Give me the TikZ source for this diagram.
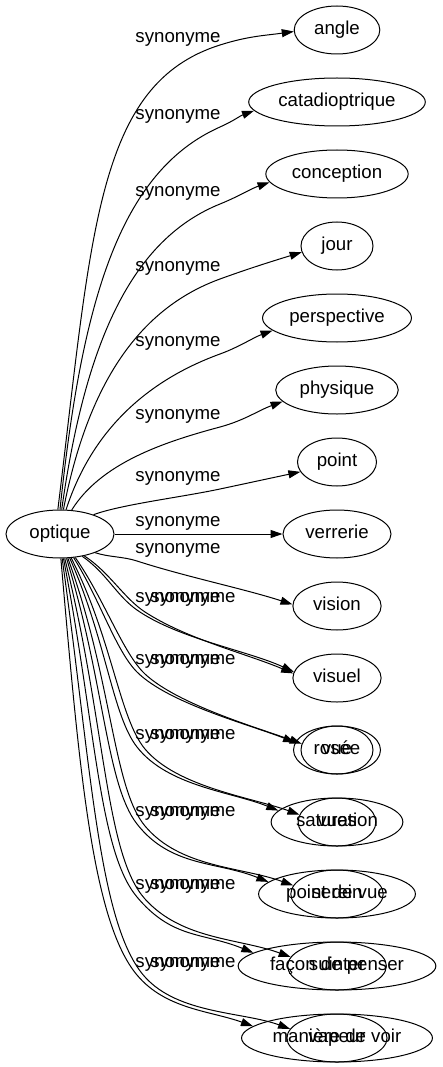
\documentclass[tikz,border=0pt]{standalone}
\usepackage{fontspec}
\setmainfont{Liberation Sans}
\usetikzlibrary{shapes.geometric,arrows.meta}
\newcommand{\gvf}{\fontsize{18.67pt}{20pt}\selectfont}
\begin{document}
\begin{tikzpicture}[x=1pt,y=1pt,
  gnode/.style={draw, ellipse, line width=1pt, minimum height=48pt, inner sep=0pt, font=\gvf, text height=13.5pt, text depth=4pt},
  lab/.style={inner sep=0pt, font=\gvf, text height=13.5pt, text depth=4pt},
  edge/.style={line width=1pt, -{Triangle[length=12pt,width=8pt]}}]
\useasboundingbox (0,0) rectangle (443,-1067);
% nodes
\node[gnode,minimum width=108pt] (optique) at (60,-534) {optique};
\node[gnode,minimum width=85.6pt] (angle) at (337,-30) {angle};
\node[gnode,minimum width=176.6pt] (cata) at (337,-102) {catadioptrique};
\node[gnode,minimum width=142.3pt] (conc) at (337,-174) {conception};
\node[gnode,minimum width=72pt] (jour) at (337,-246) {jour};
\node[gnode,minimum width=148.9pt] (persp) at (337,-318) {perspective};
\node[gnode,minimum width=122.5pt] (phys) at (337,-390) {physique};
\node[gnode,minimum width=79pt] (point) at (337,-462) {point};
\node[gnode,minimum width=108pt] (verr) at (337,-534) {verrerie};
\node[gnode,minimum width=88.2pt] (vision) at (337,-606) {vision};
\node[gnode,minimum width=88.2pt] (visuel) at (337,-678) {visuel};
\node[gnode,minimum width=87pt] (rosee) at (337,-750) {rosée};
\node[gnode,minimum width=72pt] (vue) at (337,-750) {vue};
\node[gnode,minimum width=131.7pt] (satur) at (337,-822) {saturation};
\node[gnode,minimum width=77.7pt] (vues) at (337,-822) {vues};
\node[gnode,minimum width=156.8pt] (pdv) at (337,-894) {point de vue};
\node[gnode,minimum width=92.4pt] (serein) at (337,-894) {serein};
\node[gnode,minimum width=197.7pt] (facon) at (337,-966) {façon de penser};
\node[gnode,minimum width=98.7pt] (suinter) at (337,-966) {suinter};
\node[gnode,minimum width=190.9pt] (maniere) at (337,-1038) {manière de voir};
\node[gnode,minimum width=100.1pt] (vapeur) at (337,-1038) {vapeur};
% labels
\node[lab] (l1) at (178,-38) {synonyme};
\node[lab] (l2) at (178,-115) {synonyme};
\node[lab] (l3) at (178,-192) {synonyme};
\node[lab] (l4) at (178,-267) {synonyme};
\node[lab] (l5) at (178,-342) {synonyme};
\node[lab] (l6) at (178,-415) {synonyme};
\node[lab] (l7) at (178,-477) {synonyme};
\node[lab] (l8) at (178,-522) {synonyme};
\node[lab] (l9) at (178,-549) {synonyme};
\node[lab] (l10a) at (178,-598) {synonyme};
\node[lab] (l10b) at (193,-598) {synonyme};
\node[lab] (l11a) at (178,-660) {synonyme};
\node[lab] (l11b) at (193,-660) {synonyme};
\node[lab] (l12a) at (178,-735) {synonyme};
\node[lab] (l12b) at (193,-735) {synonyme};
\node[lab] (l13a) at (178,-812) {synonyme};
\node[lab] (l13b) at (193,-812) {synonyme};
\node[lab] (l14a) at (178,-885) {synonyme};
\node[lab] (l14b) at (193,-885) {synonyme};
\node[lab] (l15a) at (178,-963) {synonyme};
\node[lab] (l15b) at (193,-963) {synonyme};
% via points
\coordinate (m1) at (220,-45);
\coordinate (m2) at (220,-127);
\coordinate (m3) at (220,-204);
\coordinate (m4) at (220,-279);
\coordinate (m5) at (220,-354);
\coordinate (m6) at (220,-427);
\coordinate (m7) at (220,-489);
\coordinate (m9) at (137,-561);
\coordinate (m10a) at (137,-610);
\coordinate (m10b) at (145,-612);
\coordinate (m11a) at (137,-672);
\coordinate (m11b) at (145,-674);
\coordinate (m12a) at (137,-747);
\coordinate (m12b) at (145,-749);
\coordinate (m13a) at (137,-824);
\coordinate (m13b) at (145,-826);
\coordinate (m14a) at (137,-897);
\coordinate (m14b) at (145,-899);
\coordinate (m15a) at (137,-975);
\coordinate (m15b) at (145,-977);
% edges
\draw[edge] (optique.95) to[out=83,in=197.5,out distance=280pt,in distance=130pt] (m1) to[out=17.5,in=188,distance=30pt] (angle.182);
\draw[edge] (optique.90) to[out=84,in=204,out distance=210pt,in distance=110pt] (m2) to[out=24,in=200,distance=15pt] (cata.186);
\draw[edge] (optique.86) to[out=82,in=202,out distance=170pt,in distance=95pt] (m3) to[out=22,in=199,distance=20pt] (conc.187);
\draw[edge] (optique.82) to[out=79,in=200,out distance=130pt,in distance=85pt] (m4) to[out=20,in=197,distance=30pt] (jour.190);
\draw[edge] (optique.76) to[out=72,in=200,out distance=90pt,in distance=70pt] (m5) to[out=20,in=200,distance=20pt] (persp.191);
\draw[edge] (optique.64) to[out=58,in=195,out distance=55pt,in distance=60pt] (m6) to[out=15,in=200,distance=25pt] (phys.192);
\draw[edge] (optique.30) to[out=20,in=192,out distance=30pt,in distance=40pt] (m7) to[out=12,in=192,distance=30pt] (point.195);
\draw[edge] (optique.east) -- (verr.west);
\draw[edge] (optique.-28) to[out=-18,in=162,distance=15pt] (m9) to[out=-18,in=162,distance=50pt] (vision.178);
\draw[edge] (optique.-45) to[out=-35,in=145,out distance=30pt,in distance=25pt] (m10a) to[out=-35,in=155,distance=50pt] (visuel.172);
\draw[edge] (optique.-42) to[out=-33,in=147,out distance=30pt,in distance=25pt] (m10b) to[out=-33,in=157,distance=50pt] (visuel.174);
\draw[edge] (optique.-60) to[out=-58,in=135,out distance=50pt,in distance=30pt] (m11a) to[out=-45,in=158,distance=45pt] (rosee.170);
\draw[edge] (optique.-57) to[out=-55,in=137,out distance=50pt,in distance=30pt] (m11b) to[out=-43,in=160,distance=45pt] (vue.170);
\draw[edge] (optique.-68) to[out=-66,in=128,out distance=90pt,in distance=40pt] (m12a) to[out=-52,in=158,distance=50pt] (satur.169);
\draw[edge] (optique.-65) to[out=-63,in=130,out distance=90pt,in distance=40pt] (m12b) to[out=-50,in=160,distance=50pt] (vues.169);
\draw[edge] (optique.-75) to[out=-73,in=128,out distance=130pt,in distance=50pt] (m13a) to[out=-52,in=158,distance=55pt] (pdv.170);
\draw[edge] (optique.-72) to[out=-70,in=130,out distance=130pt,in distance=50pt] (m13b) to[out=-50,in=160,distance=55pt] (serein.169);
\draw[edge] (optique.-82) to[out=-79,in=130,out distance=170pt,in distance=60pt] (m14a) to[out=-50,in=158,distance=55pt] (facon.171);
\draw[edge] (optique.-79) to[out=-76,in=132,out distance=170pt,in distance=60pt] (m14b) to[out=-48,in=160,distance=55pt] (suinter.169);
\draw[edge] (optique.-88) to[out=-85,in=130,out distance=210pt,in distance=70pt] (m15a) to[out=-50,in=160,distance=45pt] (maniere.172);
\draw[edge] (optique.-85) to[out=-82,in=132,out distance=210pt,in distance=70pt] (m15b) to[out=-48,in=160,distance=50pt] (vapeur.169);
\end{tikzpicture}
\end{document}
